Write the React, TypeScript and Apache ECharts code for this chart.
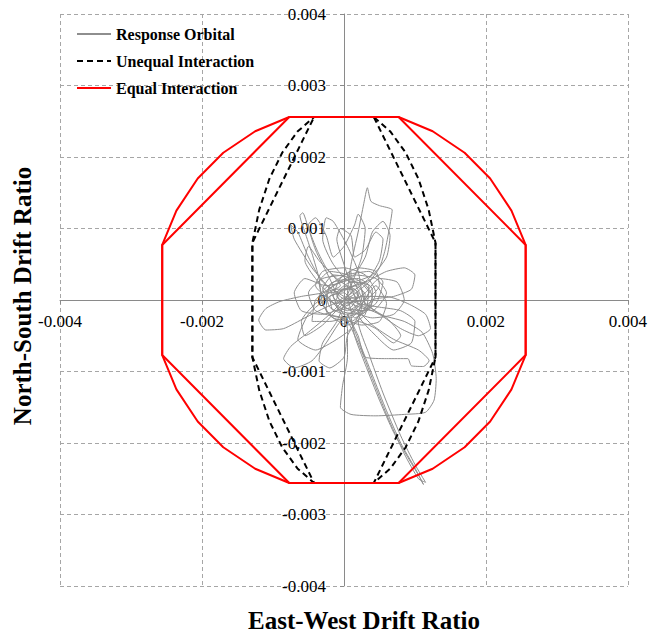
import React, { useEffect, useRef } from "react";
import * as echarts from "echarts";

// Tick settings
const xTicks = { min: -0.004, max: 0.004, interval: 0.002 };
const yTicks = { min: -0.004, max: 0.004, interval: 0.001 };

const seriesNames = ["Response Orbital", "Unequal Interaction", "Equal Interaction"];

// Equal interaction: outer arc loop and inner octagon (drift ratio)
const equalArc: number[][] = [
  [-0.00077, 0.00256], [0.00077, 0.00256], [0.00125, 0.00236], [0.0017, 0.00206], [0.00206, 0.0017], [0.00236, 0.00125], [0.00256, 0.00077],
  [0.00256, -0.00077], [0.00236, -0.00125], [0.00206, -0.0017], [0.0017, -0.00206], [0.00125, -0.00236], [0.00077, -0.00256],
  [-0.00077, -0.00256], [-0.00125, -0.00236], [-0.0017, -0.00206], [-0.00206, -0.0017], [-0.00236, -0.00125], [-0.00256, -0.00077],
  [-0.00256, 0.00077], [-0.00236, 0.00125], [-0.00206, 0.0017], [-0.0017, 0.00206], [-0.00125, 0.00236], [-0.00077, 0.00256],
];
const equalOctagon: number[][] = [
  [-0.00077, 0.00256], [0.00077, 0.00256], [0.00256, 0.00077], [0.00256, -0.00077],
  [0.00077, -0.00256], [-0.00077, -0.00256], [-0.00256, -0.00077], [-0.00256, 0.00077], [-0.00077, 0.00256],
];

// Unequal interaction: outer elliptic loop and inner chords
const unequalArc: number[][] = [
  [-0.00042, 0.00256], [0.00042, 0.00256], [0.000655, 0.002355], [0.000868, 0.002063], [0.00105, 0.001695], [0.001193, 0.001264], [0.00129, 0.0008],
  [0.00129, -0.0008], [0.001193, -0.001264], [0.00105, -0.001695], [0.000868, -0.002063], [0.000655, -0.002355], [0.00042, -0.00256],
  [-0.00042, -0.00256], [-0.000655, -0.002355], [-0.000868, -0.002063], [-0.00105, -0.001695], [-0.001193, -0.001264], [-0.00129, -0.0008],
  [-0.00129, 0.0008], [-0.001193, 0.001264], [-0.00105, 0.001695], [-0.000868, 0.002063], [-0.000655, 0.002355], [-0.00042, 0.00256],
];
const unequalChords: number[][] = [
  [-0.00042, 0.00256], [0.00042, 0.00256], [0.00129, 0.0008], [0.00129, -0.0008],
  [0.00042, -0.00256], [-0.00042, -0.00256], [-0.00129, -0.0008], [-0.00129, 0.0008], [-0.00042, 0.00256],
];

// Response orbital, in units of 0.001 drift ratio (east-west, north-south)
const orbitalMilli: number[][] = [
  [0, 0], [0.12, 0.1], [0.2, -0.05], [0.05, -0.15], [-0.12, -0.05], [-0.05, 0.12], [0.15, 0.2], [0.3, 0.08], [0.22, -0.12], [0.02, -0.2],
  [-0.2, -0.1], [-0.25, 0.1], [-0.05, 0.25], [0.2, 0.3], [0.4, 0.15], [0.38, -0.1], [0.15, -0.25],
  [0.05, 0.1], [0.1, 0.5], [0.2, 0.95], [0.28, 1.35], [0.33, 1.57], [0.38, 1.38], [0.5, 1.32], [0.68, 1.26], [0.64, 1.0], [0.58, 0.7], [0.5, 0.45], [0.35, 0.25],
  [0.1, 0.05], [-0.1, -0.05], [-0.3, 0.05], [-0.35, 0.25], [-0.2, 0.4], [0.05, 0.35], [0.25, 0.15], [0.3, -0.1], [0.1, -0.3], [-0.15, -0.25], [-0.3, -0.05],
  [-0.35, 0.3], [-0.45, 0.65], [-0.55, 0.95], [-0.62, 1.18], [-0.58, 1.22], [-0.5, 1.0], [-0.38, 0.7], [-0.25, 0.45], [-0.05, 0.2],
  [-0.3, 0.1], [-0.6, 0.05], [-0.9, -0.02], [-1.1, -0.12], [-1.2, -0.28], [-1.1, -0.42], [-0.85, -0.4], [-0.55, -0.25], [-0.25, -0.1], [0.0, 0.0],
  [0.3, 0.05], [0.6, 0.05], [0.9, -0.05], [1.15, -0.2], [1.22, -0.4], [1.05, -0.5], [0.8, -0.4], [0.5, -0.2], [0.2, -0.05],
  [0.1, 0.2], [0.0, 0.5], [-0.1, 0.85], [-0.05, 1.0], [0.1, 0.9], [0.15, 0.6], [0.3, 0.7], [0.45, 0.95], [0.55, 0.85], [0.5, 0.55], [0.35, 0.3], [0.1, 0.1],
  [-0.2, -0.2], [-0.5, -0.45], [-0.75, -0.65], [-0.85, -0.82], [-0.7, -0.95], [-0.45, -0.85], [-0.25, -0.6], [-0.05, -0.3],
  [0.2, -0.1], [0.35, 0.1], [0.15, 0.3], [-0.15, 0.25], [-0.35, 0.05], [-0.2, -0.2], [0.1, -0.25], [0.3, -0.05],
  [0.5, -0.2], [0.85, -0.3], [1.1, -0.45], [1.25, -0.75], [1.3, -1.1], [1.27, -1.4], [1.15, -1.57], [0.85, -1.6], [0.45, -1.62], [0.1, -1.6],
  [-0.05, -1.5], [-0.02, -1.2], [0.05, -0.8], [0.05, -0.4],
  [-0.1, -0.1], [-0.3, 0.15], [-0.15, 0.35], [0.1, 0.3], [0.25, 0.0], [0.1, -0.2],
  [0.15, -0.5], [0.3, -0.9], [0.5, -1.4], [0.7, -1.85], [0.9, -2.2], [1.05, -2.45], [1.12, -2.58], [1.0, -2.35], [0.8, -2.0], [0.6, -1.55],
  [0.4, -1.05], [0.2, -0.55], [0.05, -0.2],
  [0.2, -0.5], [0.3, -0.8], [0.6, -0.82], [0.9, -0.82], [0.95, -0.92], [1.12, -0.93], [1.2, -0.85], [1.05, -0.7], [0.7, -0.55], [0.4, -0.35], [0.2, -0.15],
  [0, 0.1], [-0.2, 0.05], [-0.15, -0.15], [0.1, -0.1], [0.2, 0.1], [0.05, 0.2], [-0.1, 0.05], [0.05, -0.05], [0.2, 0.05],
  [-0.1, 0.3], [-0.35, 0.55], [-0.5, 0.75], [-0.55, 0.55], [-0.4, 0.3], [-0.2, 0.1],
  [0.3, 0.25], [0.6, 0.4], [0.85, 0.45], [1.0, 0.35], [0.95, 0.15], [0.7, 0.05], [0.4, 0.0],
  [0.2, -0.3], [0.35, -0.75], [0.55, -1.3], [0.8, -1.9], [1.0, -2.3], [1.15, -2.55], [1.05, -2.5], [0.85, -2.15], [0.6, -1.6], [0.4, -1.1],
  [0.2, -0.6], [0.0, -0.2],
  [-0.2, 0.0], [-0.4, 0.2], [-0.3, 0.4], [0.0, 0.45], [0.3, 0.35], [0.45, 0.1], [0.3, -0.15], [0.0, -0.1],
  [-0.2, 0.3], [-0.4, 0.7], [-0.5, 1.05], [-0.4, 1.15], [-0.25, 0.9], [-0.15, 0.6], [0.0, 0.75], [0.15, 1.05], [0.2, 1.2], [0.3, 1.0], [0.25, 0.6], [0.1, 0.2],
  [-0.1, -0.3], [-0.3, -0.6], [-0.35, -0.85], [-0.2, -0.95], [0.0, -0.8], [0.05, -0.5], [0.2, -0.3], [0.45, -0.4], [0.7, -0.6], [0.8, -0.5], [0.6, -0.25], [0.3, -0.05],
  [0.2, 0.4], [0.05, 0.75], [-0.15, 1.1], [-0.25, 1.15], [-0.3, 0.85], [-0.15, 0.5], [0.1, 0.25], [0.4, 0.35], [0.6, 0.6], [0.65, 0.9], [0.55, 1.1],
  [0.4, 0.95], [0.3, 0.6], [0.1, 0.3], [-0.25, 0.2], [-0.55, 0.3], [-0.7, 0.1], [-0.6, -0.15], [-0.3, -0.2], [0.0, -0.1], [0.3, 0.1], [0.5, 0.3],
  [0.75, 0.25], [0.85, 0.0], [0.7, -0.2], [0.4, -0.25], [0.1, -0.15], [-0.15, 0.05], [-0.05, 0.3], [0.2, 0.45], [0.45, 0.4], [0.5, 0.2], [0.3, 0.0],
  [0.0, -0.05], [-0.3, -0.35], [-0.55, -0.5], [-0.6, -0.3], [-0.4, -0.05], [-0.1, 0.15], [0.15, 0.15], [0.25, -0.1], [0.1, -0.4], [-0.1, -0.55],
  [-0.4, -0.7], [-0.65, -0.55], [-0.5, -0.2], [-0.2, 0.05], [0.05, 0.15], [0.25, 0.25], [0.4, 0.05], [0.25, -0.2], [-0.05, -0.15],
  [-0.2, 0.15], [-0.45, 0.45], [-0.7, 0.85], [-0.75, 1.05], [-0.65, 0.95], [-0.5, 0.6], [-0.3, 0.25], [0.0, 0.05], [0.2, -0.05], [0.5, -0.1],
  [0.8, -0.15], [1.0, -0.3], [0.95, -0.6], [0.7, -0.7], [0.45, -0.5], [0.2, -0.2],
  [0.45, 0.2], [0.6, -0.05], [0.5, -0.3], [0.25, -0.35], [-0.05, -0.25], [-0.4, -0.15], [-0.5, 0.1], [-0.3, 0.3], [0.0, 0.35], [0.35, 0.4],
  [0.55, 0.25], [0.45, -0.05], [0.15, -0.2], [-0.2, -0.3], [-0.45, -0.3], [-0.4, 0.0], [-0.15, 0.2], [0.15, 0.35], [0.45, 0.3], [0.6, 0.1],
  [0.4, -0.15], [0.1, -0.05], [-0.1, 0.1], [0.1, 0.25], [0.35, 0.2], [0.3, -0.2], [0.05, -0.35], [-0.25, -0.15], [-0.2, 0.2], [0.1, 0.4],
  [0.1, 0.1], [-0.05, 0.0], [0.05, -0.08], [0.15, 0.02], [0.05, 0.05],
];

const SERIF = "Liberation Serif";

export default function App() {
  const ref = useRef<HTMLDivElement>(null);
  useEffect(() => {
    if (!ref.current) return;
    const chart = echarts.init(ref.current, null, { renderer: "svg" });
    const orbital = orbitalMilli.map((p) => [p[0] / 1000, p[1] / 1000]);
    const fmt = (v: number) => String(Number(v.toFixed(3)));
    const gridTop = 14;
    const gridBottom = 48;
    const gridLeft = 60;
    const gridRight = 22;
    const plotH = 634 - gridTop - gridBottom;
    const plotW = 650 - gridLeft - gridRight;
    const labelStyle = { color: "#000", fontFamily: SERIF, fontSize: 17 };
    const axisCommon = {
      type: "value",
      axisLine: { onZero: false, lineStyle: { color: "#8a8a8a", width: 1 } },
      axisTick: { show: true, length: 4, lineStyle: { color: "#8a8a8a" } },
      splitLine: { show: true, lineStyle: { color: "#a6a6a6", type: [4, 3], width: 1 } },
    };
    chart.setOption({
      animation: false,
      backgroundColor: "#fff",
      grid: { left: gridLeft, right: gridRight, top: gridTop, bottom: gridBottom, containLabel: false },
      xAxis: {
        ...axisCommon,
        ...xTicks,
        position: "bottom",
        offset: -plotH / 2,
        axisLabel: { ...labelStyle, margin: 13, formatter: fmt, showMinLabel: true, showMaxLabel: true },
      },
      yAxis: {
        ...axisCommon,
        ...yTicks,
        position: "left",
        offset: -plotW / 2,
        axisLabel: { ...labelStyle, margin: 18, formatter: fmt, showMinLabel: true, showMaxLabel: true },
      },
      legend: {
        orient: "vertical",
        left: 71,
        top: 21,
        itemWidth: 34,
        itemHeight: 10,
        itemGap: 11,
        data: seriesNames,
        itemStyle: { opacity: 0 },
        textStyle: { fontFamily: SERIF, fontSize: 16, fontWeight: "bold", color: "#000" },
      },
      graphic: [
        {
          type: "text",
          x: 22,
          y: 296,
          rotation: Math.PI / 2,
          style: { text: "North-South Drift Ratio", font: `bold 25px ${SERIF}`, fill: "#000", align: "center", verticalAlign: "middle" },
        },
        {
          type: "text",
          x: 364,
          y: 620,
          style: { text: "East-West Drift Ratio", font: `bold 25px ${SERIF}`, fill: "#000", align: "center", verticalAlign: "middle" },
        },
      ],
      series: [
        {
          name: seriesNames[0],
          type: "line",
          data: orbital,
          smooth: 0.2,
          symbol: "none",
          lineStyle: { color: "#8e8e8e", width: 1 },
          itemStyle: { color: "#8e8e8e" },
        },
        {
          name: seriesNames[1],
          type: "line",
          data: unequalArc,
          symbol: "none",
          lineStyle: { color: "#000", width: 2, type: [6, 4] },
          itemStyle: { color: "#000" },
        },
        {
          name: seriesNames[1],
          type: "line",
          data: unequalChords,
          symbol: "none",
          lineStyle: { color: "#000", width: 2, type: [6, 4] },
          itemStyle: { color: "#000" },
        },
        {
          name: seriesNames[2],
          type: "line",
          data: equalArc,
          symbol: "none",
          lineStyle: { color: "#ff0000", width: 2 },
          itemStyle: { color: "#ff0000" },
        },
        {
          name: seriesNames[2],
          type: "line",
          data: equalOctagon,
          symbol: "none",
          lineStyle: { color: "#ff0000", width: 2 },
          itemStyle: { color: "#ff0000" },
        },
      ],
    });
    return () => chart.dispose();
  }, []);
  return <div ref={ref} style={{ position: "fixed", left: 0, top: 0, width: 650, height: 634 }} />;
}
